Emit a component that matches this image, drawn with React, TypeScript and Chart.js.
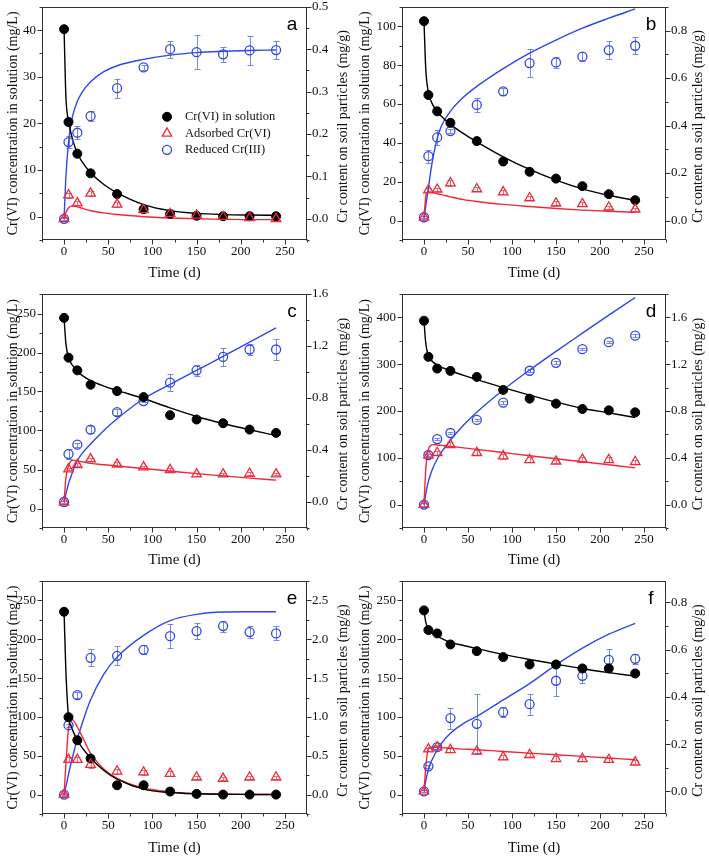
import React, { useEffect, useRef } from 'react';
import { Chart, registerables } from 'chart.js';

Chart.register(...registerables);

// ---------- shared data ----------
const TIME = [0, 5, 15, 30, 60, 90, 120, 150, 180, 210, 240];
const FIT_T = [0, 2, 5, 8, 10, 15, 20, 30, 45, 60, 90, 120, 150, 180, 210, 240];
const X_RANGE = [-25, 275];
const X_TICKS = [0, 50, 100, 150, 200, 250];
const X_MINOR = 25;
const SERIES_LABELS = ['Cr(VI) in solution', 'Adsorbed Cr(VI)', 'Reduced Cr(III)'];
const LEFT_TITLE = 'Cr(VI) concentration in solution (mg/L)';
const RIGHT_TITLE = 'Cr content on soil particles (mg/g)';
const X_TITLE = 'Time (d)';

// ---------- panel a ----------
const A_SOL = [40.2, 20.3, 13.5, 9.3, 4.85, 1.6, 0.6, 0.2, 0.1, 0.1, 0.1];
const A_ADS = [0, 0.056, 0.037, 0.06, 0.034, 0.021, 0.012, 0.008, 0.005, 0.002, 0];
const A_ADS_ERR = [0.003, 0.006, 0.005, 0.006, 0.006, 0.005, 0.004, 0.003, 0.003, 0.003, 0.003];
const A_RED = [0, 0.181, 0.203, 0.242, 0.308, 0.357, 0.4, 0.393, 0.388, 0.397, 0.398];
const A_RED_ERR = [0.004, 0.015, 0.015, 0.012, 0.022, 0.006, 0.02, 0.04, 0.018, 0.035, 0.022];
const A_FIT_SOL = [40.2, 26, 20.5, 17.8, 16.3, 13.6, 11.9, 9.4, 6.9, 5.1, 2.6, 1.3, 0.7, 0.45, 0.35, 0.3];
const A_FIT_ADS = [0, 0.014, 0.026, 0.03, 0.0298, 0.028, 0.025, 0.019, 0.014, 0.01, 0.005, 0.002, 0, -0.001, -0.002, -0.002];
const A_FIT_RED = [0, 0.097, 0.18, 0.225, 0.245, 0.277, 0.297, 0.323, 0.347, 0.361, 0.376, 0.386, 0.392, 0.395, 0.397, 0.398];
const A_LEFT_RANGE = [-5, 45];
const A_LEFT_TICKS = [0, 10, 20, 30, 40];
const A_RIGHT_RANGE = [-0.05, 0.5];
const A_RIGHT_TICKS = [0, 0.1, 0.2, 0.3, 0.4, 0.5];

// ---------- panel b ----------
const B_SOL = [102.6, 64.6, 56.2, 50.3, 40.9, 30.4, 25.1, 21.6, 17.7, 13.6, 10.5];
const B_ADS = [0.014, 0.128, 0.131, 0.158, 0.133, 0.12, 0.095, 0.073, 0.07, 0.056, 0.047];
const B_ADS_ERR = [0.004, 0.008, 0.008, 0.012, 0.008, 0.01, 0.01, 0.008, 0.008, 0.006, 0.006];
const B_RED = [0.014, 0.271, 0.35, 0.377, 0.487, 0.544, 0.663, 0.666, 0.69, 0.718, 0.736];
const B_RED_ERR = [0.004, 0.027, 0.03, 0.01, 0.03, 0.014, 0.06, 0.024, 0.02, 0.037, 0.035];
const B_FIT_SOL = [102.6, 78, 66, 61.5, 59.5, 56, 53.5, 49.5, 44.7, 40.5, 32.8, 26.3, 20.8, 16.3, 13, 10.4];
const B_FIT_ADS = [0.011, 0.1, 0.122, 0.12, 0.118, 0.113, 0.109, 0.1, 0.088, 0.08, 0.068, 0.059, 0.051, 0.044, 0.039, 0.035];
const B_FIT_RED = [0.011, 0.06, 0.14, 0.215, 0.26, 0.345, 0.4, 0.46, 0.52, 0.565, 0.64, 0.705, 0.76, 0.81, 0.852, 0.891];
const B_LEFT_RANGE = [-10, 110];
const B_LEFT_TICKS = [0, 20, 40, 60, 80, 100];
const B_RIGHT_RANGE = [-0.0818, 0.9];
const B_RIGHT_TICKS = [0, 0.2, 0.4, 0.6, 0.8];

// ---------- panel c ----------
const C_SOL = [244.4, 193.4, 177.1, 158.7, 150.5, 142.8, 119.6, 114.1, 109.3, 101.2, 96.9];
const C_ADS = [0, 0.253, 0.286, 0.33, 0.289, 0.268, 0.247, 0.214, 0.214, 0.219, 0.214];
const C_ADS_ERR = [0.005, 0.01, 0.012, 0.012, 0.015, 0.01, 0.012, 0.012, 0.01, 0.012, 0.01];
const C_RED = [0, 0.369, 0.441, 0.557, 0.691, 0.776, 0.918, 1.013, 1.116, 1.173, 1.173];
const C_RED_ERR = [0.01, 0.039, 0.015, 0.03, 0.025, 0.01, 0.064, 0.04, 0.067, 0.045, 0.084];
const C_FIT_SOL = [244, 212, 194, 186, 183, 176, 171, 164, 157, 151.5, 141, 129, 118, 109, 101, 93.5];
const C_FIT_ADS = [0, 0.18, 0.28, 0.318, 0.322, 0.316, 0.31, 0.297, 0.286, 0.277, 0.258, 0.238, 0.218, 0.201, 0.184, 0.168];
const C_FIT_RED = [0, 0.06, 0.14, 0.2, 0.24, 0.317, 0.37, 0.446, 0.55, 0.64, 0.794, 0.905, 1.013, 1.12, 1.23, 1.34];
const C_LEFT_RANGE = [-25, 275];
const C_LEFT_TICKS = [0, 50, 100, 150, 200, 250];
const C_RIGHT_RANGE = [-0.2, 1.6];
const C_RIGHT_TICKS = [0, 0.4, 0.8, 1.2, 1.6];

// ---------- panel d ----------
const D_SOL = [392.9, 315.7, 290.7, 285.7, 272.9, 245, 226.4, 215.7, 204.3, 201.4, 197.1];
const D_ADS = [0, 0.42, 0.443, 0.511, 0.443, 0.414, 0.383, 0.369, 0.386, 0.383, 0.366];
const D_ADS_ERR = [0.01, 0.01, 0.015, 0.02, 0.02, 0.02, 0.02, 0.015, 0.02, 0.02, 0.015];
const D_RED = [0, 0.424, 0.56, 0.612, 0.724, 0.872, 1.144, 1.212, 1.328, 1.388, 1.444];
const D_RED_ERR = [0.01, 0.01, 0.012, 0.01, 0.01, 0.012, 0.012, 0.012, 0.01, 0.01, 0.01];
const D_FIT_SOL = [393, 345, 318, 309, 305, 298, 293, 286, 276, 267, 250, 234, 219, 206, 196, 186];
const D_FIT_ADS = [0, 0.3, 0.47, 0.508, 0.513, 0.51, 0.506, 0.498, 0.485, 0.472, 0.445, 0.418, 0.392, 0.366, 0.34, 0.314];
const D_FIT_RED = [0, 0.09, 0.2, 0.27, 0.31, 0.39, 0.45, 0.55, 0.68, 0.79, 0.98, 1.15, 1.31, 1.465, 1.62, 1.77];
const D_LEFT_RANGE = [-50, 450];
const D_LEFT_TICKS = [0, 100, 200, 300, 400];
const D_RIGHT_RANGE = [-0.2, 1.8];
const D_RIGHT_TICKS = [0, 0.4, 0.8, 1.2, 1.6];

// ---------- panel e ----------
const E_SOL = [235.4, 99.7, 70, 46.4, 12, 12, 3.9, 0.9, 0, 0, 0];
const E_ADS = [0, 0.45, 0.45, 0.387, 0.3, 0.288, 0.271, 0.223, 0.206, 0.223, 0.223];
const E_ADS_ERR = [0.01, 0.03, 0.03, 0.04, 0.03, 0.03, 0.03, 0.02, 0.02, 0.02, 0.02];
const E_RED = [0, 0.893, 1.28, 1.761, 1.787, 1.864, 2.04, 2.105, 2.169, 2.092, 2.075];
const E_RED_ERR = [0.02, 0.02, 0.04, 0.11, 0.12, 0.06, 0.15, 0.1, 0.07, 0.08, 0.09];
const E_FIT_SOL = [235, 160, 101, 88, 82, 70, 61, 47, 31, 20, 7, 2.6, 1, 0.4, 0.2, 0.1];
const E_FIT_ADS = [0, 0.38, 0.85, 0.965, 0.96, 0.87, 0.76, 0.53, 0.33, 0.21, 0.085, 0.035, 0.014, 0.005, 0.002, 0];
const E_FIT_RED = [0, 0.1, 0.26, 0.41, 0.5, 0.72, 0.9, 1.22, 1.55, 1.77, 2.05, 2.24, 2.32, 2.35, 2.354, 2.355];
const E_LEFT_RANGE = [-25, 275];
const E_LEFT_TICKS = [0, 50, 100, 150, 200, 250];
const E_RIGHT_RANGE = [-0.25, 2.75];
const E_RIGHT_TICKS = [0, 0.5, 1, 1.5, 2, 2.5];

// ---------- panel f ----------
const F_SOL = [237.1, 211.8, 207.5, 193.3, 184.7, 177, 167.5, 167.5, 162.4, 162.4, 155.9];
const F_ADS = [0, 0.179, 0.187, 0.176, 0.169, 0.145, 0.155, 0.138, 0.138, 0.134, 0.123];
const F_ADS_ERR = [0.004, 0.006, 0.008, 0.01, 0.01, 0.008, 0.008, 0.01, 0.008, 0.008, 0.008];
const F_RED = [0, 0.106, 0.187, 0.31, 0.286, 0.335, 0.369, 0.468, 0.489, 0.556, 0.561];
const F_RED_ERR = [0.004, 0.006, 0.006, 0.044, 0.124, 0.02, 0.045, 0.063, 0.03, 0.045, 0.022];
const F_FIT_SOL = [237, 222, 213, 209, 207, 204, 201, 196, 192, 188, 180.5, 174, 168, 162, 157, 152.5];
const F_FIT_ADS = [0, 0.1, 0.183, 0.187, 0.187, 0.186, 0.185, 0.182, 0.179, 0.176, 0.169, 0.162, 0.155, 0.148, 0.141, 0.134];
const F_FIT_RED = [0, 0.045, 0.092, 0.125, 0.14, 0.176, 0.204, 0.246, 0.288, 0.317, 0.387, 0.456, 0.535, 0.606, 0.665, 0.711];
const F_LEFT_RANGE = [-25, 275];
const F_LEFT_TICKS = [0, 50, 100, 150, 200, 250];
const F_RIGHT_RANGE = [-0.0956, 0.89];
const F_RIGHT_TICKS = [0, 0.2, 0.4, 0.6, 0.8];

// ---------- styles ----------
const SERIF = "'Liberation Serif', 'Times New Roman', Times, serif";
const SANS = "'Liberation Sans', Arial, Helvetica, sans-serif";
const INK = '#111111';
const FRAME = '#333333';
const COL_BLACK = '#000000';
const COL_RED = '#ee2a3a';
const COL_BLUE = '#2f47ea';
const COL_BLUE_ERR = '#7486e8';
const COL_RED_ERR = '#f06a76';

type Panel = {
  letter: string;
  box: { left: number; top: number; w: number; h: number };
  area: { l: number; r: number; t: number; b: number };
  leftRange: number[]; leftTicks: number[]; leftMinor: number;
  rightRange: number[]; rightTicks: number[]; rightMinor: number;
  sol: number[]; ads: number[]; adsErr: number[]; red: number[]; redErr: number[];
  fitSol: number[]; fitAds: number[]; fitRed: number[];
  leftTitlePad: number; xTitlePad: number; rightTitleOff: number;
  legend: boolean;
};

const PANELS: Panel[] = [
  {
    letter: 'a', box: { left: 0, top: 0, w: 354, h: 285 }, area: { l: 42, r: 307, t: 5, b: 240 },
    leftRange: A_LEFT_RANGE, leftTicks: A_LEFT_TICKS, leftMinor: 5,
    rightRange: A_RIGHT_RANGE, rightTicks: A_RIGHT_TICKS, rightMinor: 0.05,
    sol: A_SOL, ads: A_ADS, adsErr: A_ADS_ERR, red: A_RED, redErr: A_RED_ERR,
    fitSol: A_FIT_SOL, fitAds: A_FIT_ADS, fitRed: A_FIT_RED,
    leftTitlePad: 4.5, xTitlePad: 3, rightTitleOff: 36, legend: true,
  },
  {
    letter: 'b', box: { left: 354, top: 0, w: 355, h: 285 }, area: { l: 402, r: 666, t: 5, b: 240 },
    leftRange: B_LEFT_RANGE, leftTicks: B_LEFT_TICKS, leftMinor: 10,
    rightRange: B_RIGHT_RANGE, rightTicks: B_RIGHT_TICKS, rightMinor: 0.1,
    sol: B_SOL, ads: B_ADS, adsErr: B_ADS_ERR, red: B_RED, redErr: B_RED_ERR,
    fitSol: B_FIT_SOL, fitAds: B_FIT_ADS, fitRed: B_FIT_RED,
    leftTitlePad: 2.6, xTitlePad: 3, rightTitleOff: 32, legend: false,
  },
  {
    letter: 'c', box: { left: 0, top: 285, w: 354, h: 285 }, area: { l: 42, r: 307, t: 294, b: 528 },
    leftRange: C_LEFT_RANGE, leftTicks: C_LEFT_TICKS, leftMinor: 25,
    rightRange: C_RIGHT_RANGE, rightTicks: C_RIGHT_TICKS, rightMinor: 0.2,
    sol: C_SOL, ads: C_ADS, adsErr: C_ADS_ERR, red: C_RED, redErr: C_RED_ERR,
    fitSol: C_FIT_SOL, fitAds: C_FIT_ADS, fitRed: C_FIT_RED,
    leftTitlePad: 4.5, xTitlePad: 1, rightTitleOff: 36, legend: false,
  },
  {
    letter: 'd', box: { left: 354, top: 285, w: 355, h: 285 }, area: { l: 402, r: 666, t: 294, b: 528 },
    leftRange: D_LEFT_RANGE, leftTicks: D_LEFT_TICKS, leftMinor: 50,
    rightRange: D_RIGHT_RANGE, rightTicks: D_RIGHT_TICKS, rightMinor: 0.2,
    sol: D_SOL, ads: D_ADS, adsErr: D_ADS_ERR, red: D_RED, redErr: D_RED_ERR,
    fitSol: D_FIT_SOL, fitAds: D_FIT_ADS, fitRed: D_FIT_RED,
    leftTitlePad: 2.6, xTitlePad: 1, rightTitleOff: 32, legend: false,
  },
  {
    letter: 'e', box: { left: 0, top: 570, w: 354, h: 289 }, area: { l: 42, r: 307, t: 581, b: 814 },
    leftRange: E_LEFT_RANGE, leftTicks: E_LEFT_TICKS, leftMinor: 25,
    rightRange: E_RIGHT_RANGE, rightTicks: E_RIGHT_TICKS, rightMinor: 0.25,
    sol: E_SOL, ads: E_ADS, adsErr: E_ADS_ERR, red: E_RED, redErr: E_RED_ERR,
    fitSol: E_FIT_SOL, fitAds: E_FIT_ADS, fitRed: E_FIT_RED,
    leftTitlePad: 4.5, xTitlePad: 2, rightTitleOff: 36, legend: false,
  },
  {
    letter: 'f', box: { left: 354, top: 570, w: 355, h: 289 }, area: { l: 402, r: 666, t: 581, b: 814 },
    leftRange: F_LEFT_RANGE, leftTicks: F_LEFT_TICKS, leftMinor: 25,
    rightRange: F_RIGHT_RANGE, rightTicks: F_RIGHT_TICKS, rightMinor: 0.1,
    sol: F_SOL, ads: F_ADS, adsErr: F_ADS_ERR, red: F_RED, redErr: F_RED_ERR,
    fitSol: F_FIT_SOL, fitAds: F_FIT_ADS, fitRed: F_FIT_RED,
    leftTitlePad: 2.6, xTitlePad: 2, rightTitleOff: 32, legend: false,
  },
];

function pts(xs: number[], ys: number[]) {
  return xs.map((x, i) => ({ x, y: ys[i] }));
}

function minorValues(min: number, max: number, step: number) {
  const out: number[] = [];
  const s = Math.ceil(min / step - 1e-6);
  const e = Math.floor(max / step + 1e-6);
  for (let k = s; k <= e; k++) out.push(k * step);
  return out;
}

const errorBarPlugin = {
  id: 'errorBars',
  beforeDatasetsDraw(chart: any) {
    const ctx = chart.ctx;
    const xs = chart.scales.x;
    chart.data.datasets.forEach((ds: any) => {
      if (!ds.errors) return;
      const ys = chart.scales[ds.yAxisID];
      ctx.save();
      ctx.strokeStyle = ds.errorColor;
      ctx.lineWidth = 1;
      ds.data.forEach((p: any, j: number) => {
        const e = ds.errors[j];
        if (!e) return;
        const px = Math.round(xs.getPixelForValue(p.x)) + 0.5;
        const y1 = Math.round(ys.getPixelForValue(p.y + e)) + 0.5;
        const y2 = Math.round(ys.getPixelForValue(p.y - e)) + 0.5;
        ctx.beginPath();
        ctx.moveTo(px, y1); ctx.lineTo(px, y2);
        ctx.moveTo(px - 3, y1); ctx.lineTo(px + 3, y1);
        ctx.moveTo(px - 3, y2); ctx.lineTo(px + 3, y2);
        ctx.stroke();
      });
      ctx.restore();
    });
  },
};

function makeDeco(p: Panel) {
  return {
    id: 'deco',
    afterDraw(chart: any) {
      const ctx = chart.ctx;
      const ca = chart.chartArea;
      const xs = chart.scales.x, yl = chart.scales.y, yr = chart.scales.y1;
      ctx.save();
      ctx.strokeStyle = FRAME;
      ctx.lineWidth = 1;
      const L = Math.round(ca.left) + 0.5, R = Math.round(ca.right) - 0.5;
      const T = Math.round(ca.top) + 0.5, B = Math.round(ca.bottom) - 0.5;
      ctx.strokeRect(L, T, R - L, B - T);
      const isMajor = (v: number, majors: number[], step: number) => majors.some((m) => Math.abs(m - v) < step * 0.01);
      ctx.beginPath();
      minorValues(X_RANGE[0], X_RANGE[1], X_MINOR).forEach((v) => {
        const x = Math.round(xs.getPixelForValue(v)) + 0.5;
        const len = isMajor(v, X_TICKS, X_MINOR) ? 5 : 3;
        ctx.moveTo(x, B); ctx.lineTo(x, B + len);
      });
      minorValues(p.leftRange[0], p.leftRange[1], p.leftMinor).forEach((v) => {
        const y = Math.round(yl.getPixelForValue(v)) + 0.5;
        const len = isMajor(v, p.leftTicks, p.leftMinor) ? 5 : 3;
        ctx.moveTo(L, y); ctx.lineTo(L - len, y);
      });
      minorValues(p.rightRange[0], p.rightRange[1], p.rightMinor).forEach((v) => {
        const y = Math.round(yr.getPixelForValue(v)) + 0.5;
        const len = isMajor(v, p.rightTicks, p.rightMinor) ? 5 : 3;
        ctx.moveTo(R, y); ctx.lineTo(R + len, y);
      });
      ctx.stroke();

      // right axis title (reads bottom to top)
      ctx.fillStyle = INK;
      ctx.font = `14px ${SERIF}`;
      ctx.textAlign = 'center';
      ctx.textBaseline = 'middle';
      ctx.save();
      ctx.translate(ca.right + p.rightTitleOff, (ca.top + ca.bottom) / 2 + 3);
      ctx.rotate(-Math.PI / 2);
      ctx.fillText(RIGHT_TITLE, 0, 0);
      ctx.restore();

      // panel letter
      ctx.font = `19px ${SANS}`;
      ctx.textAlign = 'center';
      ctx.textBaseline = 'alphabetic';
      ctx.fillStyle = '#000';
      ctx.fillText(p.letter, ca.right - 15, ca.top + 23);

      // legend
      if (p.legend) {
        const mx = ca.left + 125, tx = ca.left + 143;
        const rows = [ca.top + 110, ca.top + 126.5, ca.top + 143];
        const dsets = chart.data.datasets;
        ctx.font = `12.5px ${SERIF}`;
        ctx.textAlign = 'left';
        ctx.textBaseline = 'middle';
        rows.forEach((y, i) => {
          const ds = dsets[i];
          ctx.beginPath();
          if (ds.pointStyle === 'triangle') {
            const r = ds.pointRadius;
            let rad = 0;
            ctx.moveTo(mx + Math.sin(rad) * r, y - Math.cos(rad) * r);
            rad += (2 * Math.PI) / 3;
            ctx.lineTo(mx + Math.sin(rad) * r, y - Math.cos(rad) * r);
            rad += (2 * Math.PI) / 3;
            ctx.lineTo(mx + Math.sin(rad) * r, y - Math.cos(rad) * r);
            ctx.closePath();
          } else {
            ctx.arc(mx, y, ds.pointRadius, 0, Math.PI * 2);
          }
          if (ds.pointBackgroundColor !== 'rgba(0,0,0,0)') {
            ctx.fillStyle = ds.pointBackgroundColor;
            ctx.fill();
          }
          ctx.lineWidth = ds.pointBorderWidth;
          ctx.strokeStyle = ds.pointBorderColor;
          ctx.stroke();
          ctx.fillStyle = INK;
          ctx.fillText(ds.label, tx, y);
        });
      }
      ctx.restore();
    },
  };
}

function PanelChart({ p }: { p: Panel }) {
  const ref = useRef<HTMLCanvasElement | null>(null);
  useEffect(() => {
    const canvas = ref.current;
    if (!canvas) return;
    const lW = p.area.l - p.box.left;
    const rW = p.box.left + p.box.w - p.area.r;
    const padTop = p.area.t - p.box.top;
    const xH = p.box.top + p.box.h - p.area.b;
    const tickFont = { family: SERIF, size: 13 };
    const chart = new Chart(canvas, {
      type: 'line',
      data: {
        datasets: [
          {
            label: SERIES_LABELS[0], data: pts(TIME, p.sol), yAxisID: 'y', showLine: false,
            pointStyle: 'circle', pointRadius: 4.5, pointBackgroundColor: COL_BLACK,
            pointBorderColor: COL_BLACK, pointBorderWidth: 1, borderColor: COL_BLACK, order: 2,
          },
          {
            label: SERIES_LABELS[1], data: pts(TIME, p.ads), yAxisID: 'y1', showLine: false,
            pointStyle: 'triangle', pointRadius: 5.5, pointBackgroundColor: 'rgba(0,0,0,0)',
            pointBorderColor: COL_RED, pointBorderWidth: 1.3, borderColor: COL_RED, order: 1,
            errors: p.adsErr, errorColor: COL_RED_ERR,
          },
          {
            label: SERIES_LABELS[2], data: pts(TIME, p.red), yAxisID: 'y1', showLine: false,
            pointStyle: 'circle', pointRadius: 4.5, pointBackgroundColor: 'rgba(0,0,0,0)',
            pointBorderColor: COL_BLUE, pointBorderWidth: 1.3, borderColor: COL_BLUE, order: 3,
            errors: p.redErr, errorColor: COL_BLUE_ERR,
          },
          {
            label: 'fit-sol', data: pts(FIT_T, p.fitSol), yAxisID: 'y', borderColor: COL_BLACK,
            borderWidth: 1.4, pointRadius: 0, cubicInterpolationMode: 'monotone', fill: false, order: 10,
          },
          {
            label: 'fit-ads', data: pts(FIT_T, p.fitAds), yAxisID: 'y1', borderColor: COL_RED,
            borderWidth: 1.4, pointRadius: 0, cubicInterpolationMode: 'monotone', fill: false, order: 10,
          },
          {
            label: 'fit-red', data: pts(FIT_T, p.fitRed), yAxisID: 'y1', borderColor: COL_BLUE,
            borderWidth: 1.4, pointRadius: 0, cubicInterpolationMode: 'monotone', fill: false, order: 10,
          },
        ] as any,
      },
      options: {
        responsive: false,
        animation: false,
        devicePixelRatio: 1,
        events: [],
        layout: { padding: { top: padTop, left: 0, right: 0, bottom: 0 } },
        plugins: { legend: { display: false }, tooltip: { enabled: false }, title: { display: false } },
        scales: {
          x: {
            type: 'linear', position: 'bottom', min: X_RANGE[0], max: X_RANGE[1],
            afterBuildTicks: (s: any) => { s.ticks = X_TICKS.map((v) => ({ value: v })); },
            afterFit: (s: any) => { s.height = xH; s.paddingLeft = 0; s.paddingRight = 0; },
            grid: { display: false, drawTicks: false }, border: { display: false },
            ticks: { padding: 4, font: tickFont, color: INK, autoSkip: false, maxRotation: 0, minRotation: 0, callback: (v: any) => String(v) },
            title: { display: true, text: X_TITLE, color: INK, font: { family: SERIF, size: 15 }, padding: { top: 0, bottom: p.xTitlePad } },
          },
          y: {
            type: 'linear', position: 'left', min: p.leftRange[0], max: p.leftRange[1],
            afterBuildTicks: (s: any) => { s.ticks = p.leftTicks.map((v) => ({ value: v })); },
            afterFit: (s: any) => { s.width = lW; s.paddingTop = 0; s.paddingBottom = 0; },
            grid: { display: false, drawTicks: false }, border: { display: false },
            ticks: { padding: 6, font: tickFont, color: INK, autoSkip: false, callback: (v: any) => String(v) },
            title: { display: true, text: LEFT_TITLE, color: INK, font: { family: SERIF, size: 14 }, padding: { top: p.leftTitlePad, bottom: 0 } },
          },
          y1: {
            type: 'linear', position: 'right', min: p.rightRange[0], max: p.rightRange[1],
            afterBuildTicks: (s: any) => { s.ticks = p.rightTicks.map((v) => ({ value: v })); },
            afterFit: (s: any) => { s.width = rW; s.paddingTop = 0; s.paddingBottom = 0; },
            grid: { display: false, drawTicks: false }, border: { display: false },
            ticks: { padding: 5, font: tickFont, color: INK, autoSkip: false, callback: (v: any) => Number(v).toFixed(1) },
            title: { display: false },
          },
        },
      } as any,
      plugins: [errorBarPlugin, makeDeco(p)],
    });
    return () => chart.destroy();
  }, [p]);
  return (
    <canvas
      ref={ref}
      width={p.box.w}
      height={p.box.h}
      style={{ position: 'absolute', left: p.box.left, top: p.box.top, width: p.box.w, height: p.box.h }}
    />
  );
}

export default function App() {
  return (
    <div style={{ position: 'absolute', left: 0, top: 0, width: 709, height: 859, background: '#fff' }}>
      {PANELS.map((p) => (
        <PanelChart key={p.letter} p={p} />
      ))}
    </div>
  );
}
